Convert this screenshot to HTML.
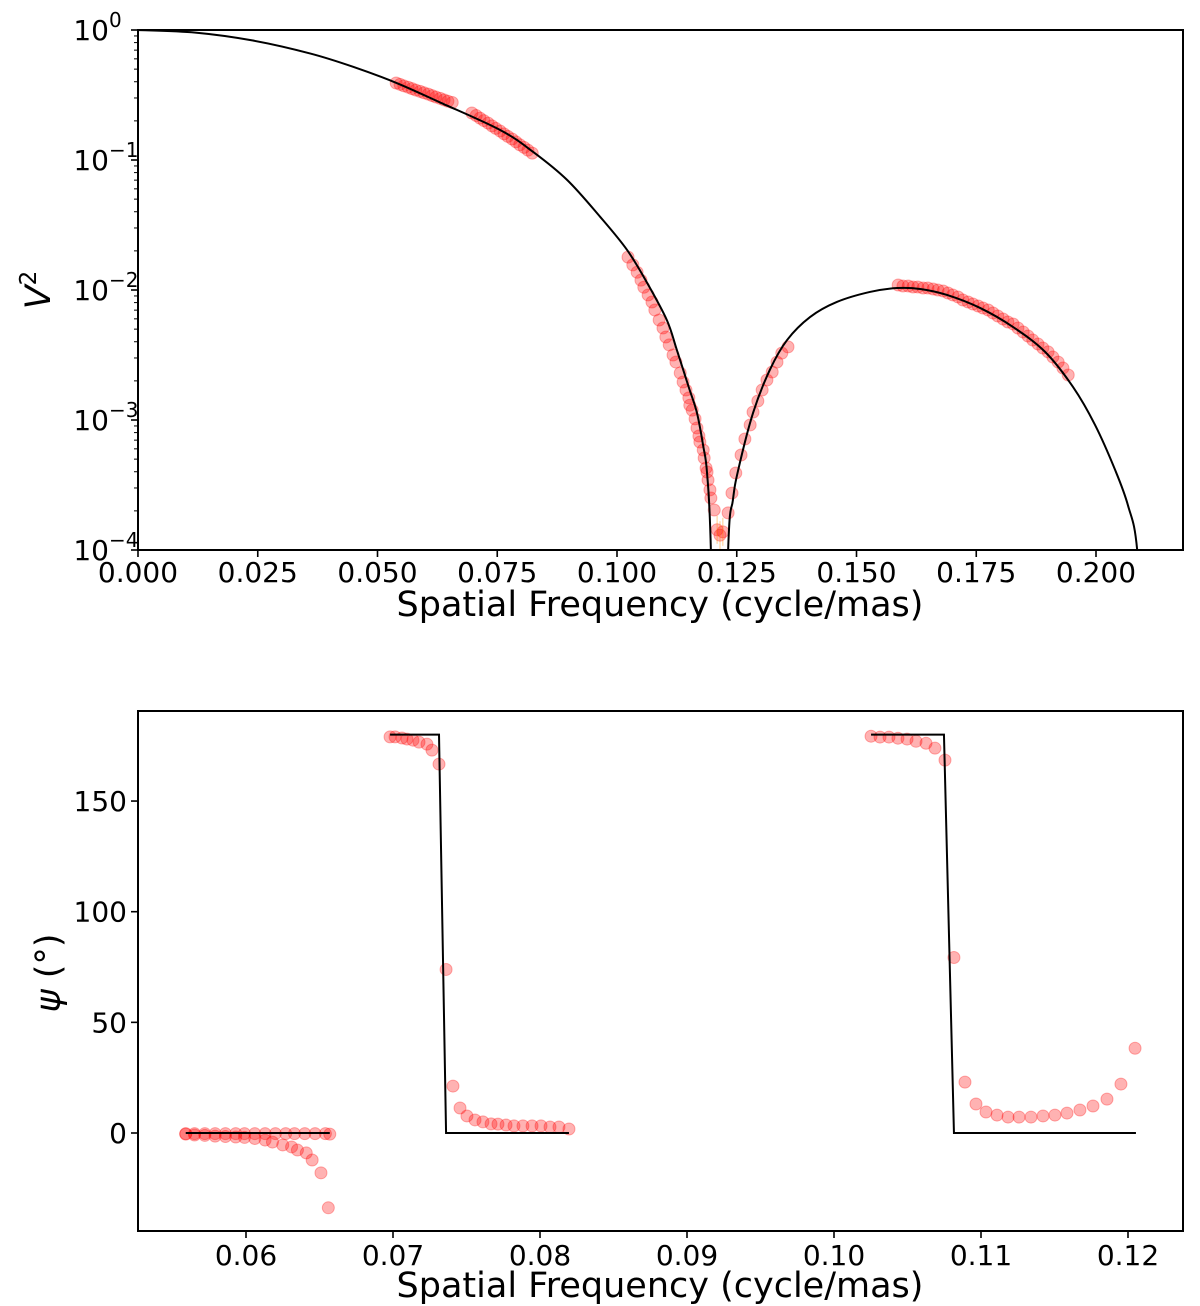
<!DOCTYPE html>
<html><head><meta charset="utf-8"><style>
html,body{margin:0;padding:0;background:#fff;}
svg{display:block;font-family:"DejaVu Sans","Liberation Sans",sans-serif;}
</style></head><body>
<svg id="fig" width="1200" height="1306" viewBox="0 0 1200 1306" xmlns="http://www.w3.org/2000/svg"></svg>
<script>
// ===== Top panel data (V^2) =====
const modelX = [0,0.012,0.024,0.036,0.045,0.054,0.063,0.0756,0.0825,0.0896,0.0965,0.1021,0.1063,0.1104,0.1125,0.1150,0.1167,0.1180,0.1188,0.1196,0.1207,
0.1219,0.1232,0.1242,0.1253,0.1284,0.1319,0.1355,0.1403,0.1459,0.1528,0.1585,0.1633,0.1689,0.1758,0.1827,0.1894,0.1952,0.1998,0.2040,0.2067,0.2086,0.2102];
const modelLogV2 = [0,-0.020,-0.081,-0.181,-0.284,-0.408,-0.556,-0.769,-0.938,-1.154,-1.438,-1.692,-1.946,-2.231,-2.462,-2.75,-2.946,-3.2,-3.408,-4.0,-6.0,
-6.0,-4.0,-3.615,-3.385,-2.946,-2.615,-2.385,-2.208,-2.092,-2.015,-1.985,-1.992,-2.038,-2.138,-2.285,-2.477,-2.746,-3.038,-3.385,-3.66,-4.0,-5.0];
const obsX = [0.0539,0.0547,0.0555,0.0564,0.0572,0.0580,0.0589,0.0597,0.0606,0.0614,0.0622,0.0631,0.0639,0.0647,0.0656,
0.0697,0.0706,0.0714,0.0722,0.0731,0.0739,0.0747,0.0756,0.0764,0.0772,0.0781,0.0789,0.0797,0.0806,0.0814,0.0823,
0.1023,0.1033,0.1042,0.1050,0.1056,0.1065,0.1073,0.1079,0.1088,0.1096,0.1102,0.1109,0.1117,0.1123,0.1132,0.1138,0.1144,0.1150,0.1152,0.1157,0.1163,0.1167,0.1171,0.1173,0.1180,0.1182,0.1186,0.1188,0.1190,0.1194,0.1196,0.1203,0.1209,0.1215,0.1221,
0.1232,0.1240,0.1248,0.1259,0.1267,0.1278,0.1284,0.1294,0.1303,0.1313,0.1324,0.1334,0.1344,0.1357,
0.1587,0.1597,0.1608,0.1618,0.1628,0.1639,0.1649,0.1660,0.1670,0.1681,0.1691,0.1701,0.1712,0.1722,0.1733,0.1743,0.1754,0.1764,0.1775,0.1785,0.1795,0.1806,0.1816,0.1827,0.1837,0.1848,0.1858,0.1868,0.1879,0.1889,0.1900,0.1910,0.1921,0.1931,0.1942];
const obsV2 = [0.391,0.382,0.372,0.363,0.354,0.345,0.337,0.329,0.321,0.313,0.305,0.298,0.290,0.283,0.277,
0.230,0.220,0.210,0.201,0.192,0.183,0.175,0.167,0.159,0.152,0.145,0.138,0.131,0.125,0.119,0.113,
0.0179,0.0156,0.0137,0.0119,0.0105,0.00916,0.00809,0.00702,0.00588,0.00510,0.00435,0.00378,0.00316,0.00279,0.00230,0.00196,0.00170,0.00148,0.00130,0.00119,0.00102,0.000868,0.000753,0.000677,0.000588,0.000510,0.000427,0.000398,0.000345,0.000290,0.000251,0.000203,0.000143,0.000130,0.000138,
0.000193,0.000274,0.000391,0.000538,0.000714,0.000916,0.00115,0.00140,0.00170,0.00203,0.00234,0.00279,0.00327,0.00365,
0.01092,0.01074,0.01074,0.01055,0.01055,0.01036,0.01036,0.01018,0.0100,0.00982,0.00948,0.00916,0.00884,0.00838,0.00809,0.00780,0.00753,0.00727,0.00702,0.00665,0.00631,0.00598,0.00567,0.00548,0.00510,0.00475,0.00443,0.00412,0.00384,0.00358,0.00334,0.00305,0.00279,0.00251,0.00222];
const topXTicks = [0,0.025,0.05,0.075,0.1,0.125,0.15,0.175,0.2];
const topXTickLabels = ["0.000","0.025","0.050","0.075","0.100","0.125","0.150","0.175","0.200"];
const topYTicks = [0,-1,-2,-3,-4];

// ===== Bottom panel data (closure phase) =====
const phaseModelX = [0.0559,0.0657,null,0.06980,0.07313,0.07361,0.08197,null,0.10252,0.10748,0.10816,0.12054];
const phaseModelY = [0,0,null,180,180,0,0,null,180,180,0,0];
const phaseX = [0.0559,0.0565,0.0572,0.0579,0.0586,0.0593,0.0599,0.0606,0.0613,0.0620,0.0627,0.0633,0.0640,0.0647,0.0654,0.0657,
0.0559,0.0565,0.0572,0.0579,0.0586,0.0593,0.0599,0.0606,0.0613,0.0618,0.0625,0.0631,0.0635,0.0641,0.0645,0.0651,0.0656,
0.06980,0.07014,0.07061,0.07095,0.07136,0.07177,0.07231,0.07265,0.07313,0.07361,0.07408,0.07456,0.07503,0.07558,0.07612,0.07667,0.07714,0.07769,0.07823,0.07884,0.07946,0.08007,0.08068,0.08129,0.08197,
0.10252,0.10313,0.10374,0.10435,0.10497,0.10558,0.10626,0.10687,0.10755,0.10816,0.10891,0.10966,0.11034,0.11109,0.11184,0.11259,0.11340,0.11422,0.11503,0.11585,0.11673,0.11762,0.11857,0.11952,0.12048];
const phaseY = [-0.3,-0.3,-0.3,-0.3,-0.3,-0.3,-0.3,-0.3,-0.3,-0.3,-0.3,-0.3,-0.3,-0.3,-0.3,-0.5,
-0.5,-0.9,-1.1,-1.4,-1.6,-1.8,-2.0,-2.5,-3.2,-4.1,-5.4,-6.3,-7.7,-9.0,-12.2,-18.0,-33.8,
179,179,178.5,178,177.5,176.6,175.7,173,166.7,73.9,21.2,11.3,7.7,5.9,5.0,4.1,4.0,3.6,3.2,3.2,3.2,3.2,2.7,2.7,1.8,
179.3,178.9,178.9,178.4,178,177,176.1,173.9,168.5,79.3,23,13.1,9.5,8.1,7.2,7.2,7.2,7.7,8.1,9.0,10.4,12.2,15.3,22.1,38.3];
const botXTicks = [0.06,0.07,0.08,0.09,0.10,0.11,0.12];
const botXTickLabels = ["0.06","0.07","0.08","0.09","0.10","0.11","0.12"];
const botYTicks = [0,50,100,150];
const botYTickLabels = ["0","50","100","150"];

const NS="http://www.w3.org/2000/svg";
const svg=document.getElementById('fig');
function mk(tag,attrs,parent){const e=document.createElementNS(NS,tag);for(const k in attrs)e.setAttribute(k,attrs[k]);(parent||svg).appendChild(e);return e;}

const T={l:138,r:1183,t:30,b:550};
const B={l:138,r:1183,t:711,b:1231};
const tx=v=>138+v*4790;
const ty=v=>30+(-Math.log10(v))*130;
const tyLog=e=>30+(-e)*130;
const bx=v=>246+(v-0.06)*14700;
const by=v=>1133-v*2.213;
const TICKFS=28, TITLEFS=35;

const defs=mk('defs',{});
const c1=mk('clipPath',{id:'clipTop'},defs);mk('rect',{x:T.l,y:T.t,width:T.r-T.l,height:T.b-T.t},c1);
const c2=mk('clipPath',{id:'clipBot'},defs);mk('rect',{x:B.l,y:B.t,width:B.r-B.l,height:B.b-B.t},c2);

// ===== TOP PANEL =====
const gTop=mk('g',{});


const gTopPlot=mk('g',{'clip-path':'url(#clipTop)'},gTop);

const gObs=mk('g',{},gTopPlot);


for(let i=0;i<obsX.length;i++){
  const c=mk('circle',{cx:tx(obsX[i]).toFixed(2),cy:ty(obsV2[i]).toFixed(2),r:6,fill:'rgba(255,0,0,0.3)',stroke:'rgba(255,0,0,0.3)','stroke-width':1},gObs);
  
  
}
for(let i=0;i<obsX.length;i++){
  if(obsV2[i]<0.00016){
    const e=mk('line',{x1:tx(obsX[i]),x2:tx(obsX[i]),y1:ty(obsV2[i])-14,y2:ty(obsV2[i])+14,stroke:'rgba(255,140,0,0.45)','stroke-width':1},gObs);
    
    
  }
}
function smoothPath(pts){
  let d='M'+pts[0][0].toFixed(2)+','+pts[0][1].toFixed(2);
  for(let i=0;i<pts.length-1;i++){
    const p0=pts[Math.max(0,i-1)],p1=pts[i],p2=pts[i+1],p3=pts[Math.min(pts.length-1,i+2)];
    const c1x=p1[0]+(p2[0]-p0[0])/6,c1y=p1[1]+(p2[1]-p0[1])/6;
    const c2x=p2[0]-(p3[0]-p1[0])/6,c2y=p2[1]-(p3[1]-p1[1])/6;
    d+=' C'+c1x.toFixed(2)+','+c1y.toFixed(2)+' '+c2x.toFixed(2)+','+c2y.toFixed(2)+' '+p2[0].toFixed(2)+','+p2[1].toFixed(2);
  }
  return d;
}
const seg1=[],seg2=[];
for(let i=0;i<modelX.length;i++){const p=[tx(modelX[i]),tyLog(modelLogV2[i])];if(modelX[i]<=0.1207)seg1.push(p);else seg2.push(p);}
const m1=mk('path',{d:smoothPath(seg1),fill:'none',stroke:'#000','stroke-width':2},gTopPlot);


const m2=mk('path',{d:smoothPath(seg2),fill:'none',stroke:'#000','stroke-width':2},gTopPlot);



const f1=mk('rect',{x:T.l,y:T.t,width:T.r-T.l,height:T.b-T.t,fill:'none',stroke:'#000','stroke-width':2},gTop);


topXTicks.forEach((v,i)=>{
  const x=tx(v);
  mk('line',{x1:x,x2:x,y1:T.b,y2:T.b+7,stroke:'#000','stroke-width':1.6},gTop);
  const t=mk('text',{x:x,y:T.b+32,'font-size':TICKFS,'text-anchor':'middle'},gTop);
  t.textContent=topXTickLabels[i];
  
  
});
topYTicks.forEach(e=>{
  const y=tyLog(e);
  mk('line',{x1:T.l-7,x2:T.l,y1:y,y2:y,stroke:'#000','stroke-width':1.6},gTop);
  const t=mk('text',{x:T.l-29,y:y+10,'font-size':TICKFS,'text-anchor':'end'},gTop);
  t.textContent='10';
  
  
  const s=mk('text',{x:T.l-29,y:y-3,'font-size':20,'text-anchor':'start'},gTop);
  s.textContent=e===0?'0':'\u2212'+(-e);
  
  
  if(e>-4){for(let m=2;m<=9;m++){const yy=ty(Math.pow(10,e-1)*m);mk('line',{x1:T.l-4,x2:T.l,y1:yy,y2:yy,stroke:'#000','stroke-width':1},gTop);}}
});
let t1=mk('text',{x:660,y:616,'font-size':TITLEFS,'text-anchor':'middle'},gTop);
t1.textContent='Spatial Frequency (cycle/mas)';


let t2=mk('text',{x:0,y:0,'font-size':TITLEFS,'text-anchor':'middle',transform:'translate(50,290) rotate(-90)'},gTop);
t2.innerHTML='<tspan font-style="italic">V</tspan><tspan font-size="23" dy="-14">2</tspan>';



// ===== BOTTOM PANEL =====
const gBot=mk('g',{});


const gBotPlot=mk('g',{'clip-path':'url(#clipBot)'},gBot);
const gPh=mk('g',{},gBotPlot);


for(let i=0;i<phaseX.length;i++){
  const c=mk('circle',{cx:bx(phaseX[i]).toFixed(2),cy:by(phaseY[i]).toFixed(2),r:6,fill:'rgba(255,0,0,0.3)',stroke:'rgba(255,0,0,0.3)','stroke-width':1},gPh);
  
  
}
let d='',start=true;
for(let i=0;i<phaseModelX.length;i++){
  if(phaseModelX[i]===null){start=true;continue;}
  d+=(start?'M':'L')+bx(phaseModelX[i]).toFixed(2)+','+by(phaseModelY[i]).toFixed(2)+' ';start=false;
}
const pm=mk('path',{d:d,fill:'none',stroke:'#000','stroke-width':2},gBotPlot);


const f2=mk('rect',{x:B.l,y:B.t,width:B.r-B.l,height:B.b-B.t,fill:'none',stroke:'#000','stroke-width':2},gBot);


botXTicks.forEach((v,i)=>{
  const x=bx(v);
  mk('line',{x1:x,x2:x,y1:B.b,y2:B.b+7,stroke:'#000','stroke-width':1.6},gBot);
  const t=mk('text',{x:x,y:B.b+34,'font-size':TICKFS,'text-anchor':'middle'},gBot);
  t.textContent=botXTickLabels[i];
  
  
});
botYTicks.forEach((v,i)=>{
  const y=by(v);
  mk('line',{x1:B.l-7,x2:B.l,y1:y,y2:y,stroke:'#000','stroke-width':1.6},gBot);
  const t=mk('text',{x:B.l-11,y:y+10,'font-size':TICKFS,'text-anchor':'end'},gBot);
  t.textContent=botYTickLabels[i];
  
  
});
let t3=mk('text',{x:660,y:1297,'font-size':TITLEFS,'text-anchor':'middle'},gBot);
t3.textContent='Spatial Frequency (cycle/mas)';


let t4=mk('text',{x:0,y:0,'font-size':TITLEFS,'text-anchor':'middle',transform:'translate(60,973) rotate(-90)'},gBot);
t4.innerHTML='<tspan font-style="italic">\u03C8</tspan> (\u00B0)';


</script>
</body></html>
